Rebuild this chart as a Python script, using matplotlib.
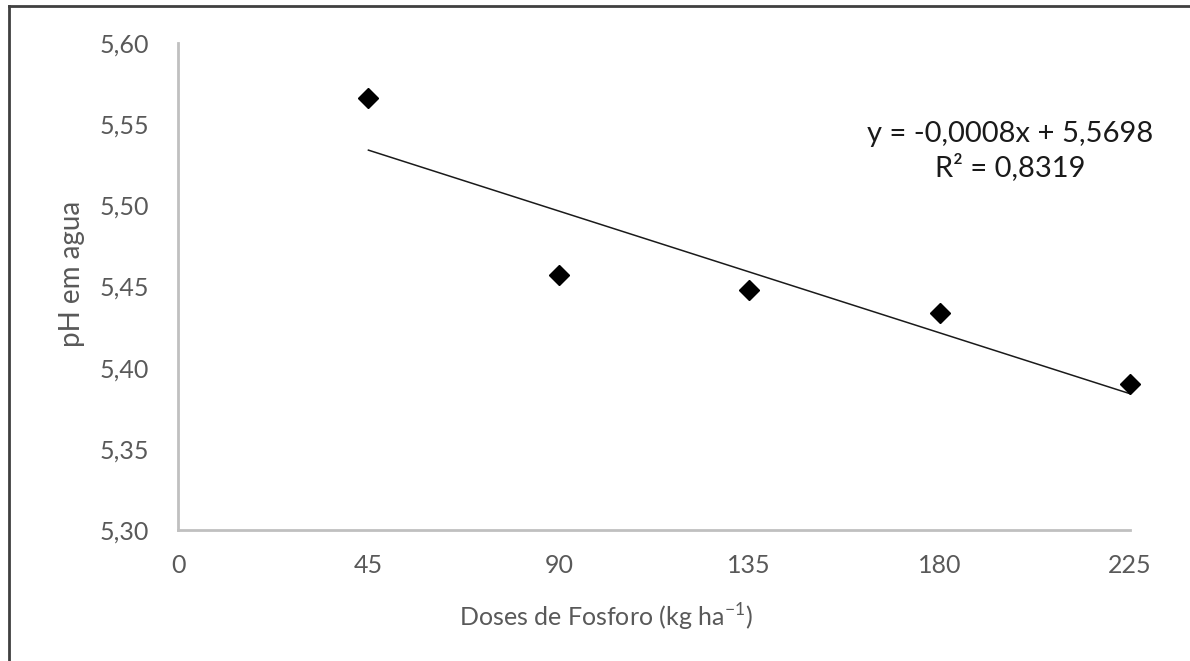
import numpy as np
import matplotlib.pyplot as plt

plt.rcParams['font.family'] = ['Lato', 'DejaVu Sans']

doses = [45, 90, 135, 180, 225]
ph = [5.566, 5.457, 5.448, 5.434, 5.390]
xticks = [0, 45, 90, 135, 180, 225]
yticks = [5.30, 5.35, 5.40, 5.45, 5.50, 5.55, 5.60]

fig = plt.figure(figsize=(11.9, 6.61), dpi=100)
ax = fig.add_axes([0.1496, 0.198, 0.80, 0.737])

# linha de tendencia
coef = np.polyfit(doses, ph, 1)
xl = np.array([doses[0], doses[-1]])
ax.plot(xl, np.polyval(coef, xl), color='#1a1a1a', lw=1.1)
ax.plot(doses, ph, 'D', color='black', ms=10, mec='black', clip_on=False)

ax.set_xlim(0, 225)
ax.set_ylim(5.30, 5.60)
ax.set_xticks(xticks)
ax.set_yticks(yticks)
ax.set_yticklabels([f'{v:.2f}'.replace('.', ',') for v in yticks])
ax.tick_params(length=0, labelsize=18, colors='#595959')
ax.tick_params(axis='y', pad=21)
ax.tick_params(axis='x', pad=17)
for s in ['top', 'right']:
    ax.spines[s].set_visible(False)
for s in ['left', 'bottom']:
    ax.spines[s].set_color('#c0c0c0')
    ax.spines[s].set_linewidth(2)

fig.text(0.849, 0.772, 'y = -0,0008x + 5,5698\nR² = 0,8319',
         ha='center', va='center', fontsize=21, color='#1a1a1a', linespacing=1.25)

fig.text(0.509, 0.066, 'Doses de Fosforo (kg ha$^{\\mathregular{-1}}$)', ha='center', va='center',
         fontsize=18, color='#595959')
fig.text(0.0605, 0.585, 'pH em agua', rotation=90, ha='center', va='center',
         fontsize=20, color='#595959')

# borda
fig.add_artist(plt.Line2D([0.0075, 0.0075], [0, 0.991], transform=fig.transFigure, color='#404040', lw=2))
fig.add_artist(plt.Line2D([0.0075, 1], [0.991, 0.991], transform=fig.transFigure, color='#404040', lw=2))

fig.savefig('out.png', dpi=100)
